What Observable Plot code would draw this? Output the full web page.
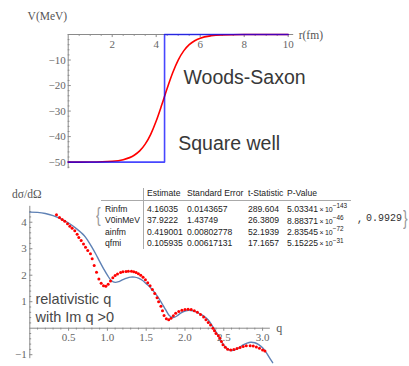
<!DOCTYPE html>
<html><head><meta charset="utf-8">
<script src="https://cdn.jsdelivr.net/npm/d3@7"></script>
<script src="https://cdn.jsdelivr.net/npm/@observablehq/plot@0.6"></script>
<style>
body{margin:0;background:#fff;}
#wrap{position:relative;width:409px;height:366px;overflow:hidden;background:#fff;}
#wrap svg{position:absolute;left:0;overflow:visible;background:transparent;}
.t{position:absolute;font-family:"Liberation Sans",Arial,sans-serif;font-size:8.6px;color:#222;white-space:nowrap;line-height:11px;height:11px;}
.t sup{font-size:6.4px;position:relative;top:-3.6px;vertical-align:baseline;line-height:0;}
</style></head>
<body><div id="wrap"></div>
<script>
// ---------- Top panel data: potentials ----------
const wsR = [0,1,2,2.5,3,3.25,3.5,3.75,4,4.25,4.5,4.75,5,5.25,5.5,5.75,6,6.5,7,8,9,10];
const wsV = [-50,-49.96,-49.67,-49.04,-47.3,-45.6,-42.96,-39.1,-33.9,-27.65,-21.04,-14.97,-10.02,-6.42,-3.98,-2.43,-1.45,-0.51,-0.18,-0.02,0,0];
const sqR = [0,4.38,4.38,10];
const sqV = [-50,-50,0,0];
const topXTicks = [2,4,6,8,10];
const topXLabels = ["2","4","6","8","10"];
const topYTicks = [-10,-20,-30,-40,-50];
const topYLabels = ["−10","−20","−30","−40","−50"];

// ---------- Bottom panel data: cross section ----------
const ptQ = [0.344,0.383,0.417,0.451,0.486,0.516,0.546,0.58,0.61,0.632,0.662,0.692,0.718,0.747,0.782,0.804,0.83,0.86,0.89,0.92,0.95,0.98,1.01,1.04,1.07,1.10,1.13,1.17,1.20,1.24,1.27,1.31,1.34,1.37,1.40,1.43,1.46,1.49,1.52,1.55,1.58,1.61,1.64,1.66,1.69,1.71,1.73,1.76,1.79,1.82,1.85,1.88,1.92,1.96,2.00,2.04,2.08,2.12,2.16,2.20,2.24,2.27,2.30,2.33,2.36,2.38,2.40,2.43,2.45,2.47,2.49,2.52,2.55,2.59,2.63,2.67,2.71,2.75,2.79,2.84,2.88,2.92,2.96,3.00,3.03];
const ptV = [4.28,4.18,4.10,4.04,3.94,3.85,3.77,3.68,3.55,3.42,3.31,3.18,3.06,2.93,2.81,2.62,2.37,2.11,1.86,1.70,1.60,1.58,1.66,1.78,1.90,1.99,2.05,2.10,2.13,2.14,2.15,2.15,2.13,2.10,2.06,2.00,1.92,1.83,1.72,1.60,1.46,1.31,1.15,1.00,0.83,0.66,0.48,0.36,0.32,0.38,0.47,0.56,0.63,0.68,0.71,0.72,0.71,0.66,0.60,0.52,0.42,0.32,0.22,0.12,0.0,-0.10,-0.20,-0.28,-0.38,-0.50,-0.62,-0.72,-0.79,-0.82,-0.80,-0.77,-0.73,-0.69,-0.66,-0.66,-0.67,-0.71,-0.76,-0.82,-0.86];
const fitQ = [0,0.1,0.2,0.3,0.4,0.5,0.6,0.7,0.75,0.8,0.85,0.9,0.95,1.0,1.05,1.1,1.15,1.2,1.25,1.3,1.35,1.4,1.45,1.5,1.55,1.6,1.65,1.7,1.75,1.8,1.85,1.9,1.95,2.0,2.05,2.1,2.15,2.2,2.25,2.3,2.35,2.4,2.45,2.5,2.55,2.6,2.65,2.7,2.75,2.8,2.85,2.9,2.95,3.0,3.05,3.1,3.13];
const fitV = [4.38,4.37,4.33,4.25,4.13,3.97,3.76,3.50,3.30,3.06,2.80,2.52,2.25,2.00,1.80,1.73,1.76,1.83,1.89,1.93,1.93,1.89,1.81,1.68,1.55,1.38,1.18,0.95,0.70,0.47,0.40,0.47,0.58,0.65,0.68,0.66,0.61,0.53,0.44,0.31,0.10,-0.14,-0.40,-0.64,-0.79,-0.84,-0.81,-0.73,-0.63,-0.56,-0.53,-0.55,-0.62,-0.74,-0.93,-1.17,-1.30];
const botXTicks = [0.5,1,1.5,2,2.5,3];
const botXLabels = ["0.5","1.0","1.5","2.0","2.5","3.0"];
const botYTicks = [-1,1,2,3,4];
const botYLabels = ["−1","1","2","3","4"];

// ---------- Fit table ----------
const headers = ["Estimate","Standard Error","t-Statistic","P-Value"];
const paramNames = ["Rinfm","V0inMeV","ainfm","qfmi"];
const estimates = ["4.16035","37.9222","0.419001","0.105935"];
const stdErrors = ["0.0143657","1.43749","0.00802778","0.00617131"];
const tStats = ["289.604","26.3809","52.1939","17.1657"];
const pMant = ["5.03341","8.88371","2.83545","5.15225"];
const pExp = ["−143","−46","−72","−31"];
const rSquared = "0.9929";

const AX = "#8a8a8a", LAB = "#666", SERIF = "'Liberation Serif','DejaVu Serif',serif";
const SANS = "'Liberation Sans',Arial,sans-serif";

// ---------------- Top plot ----------------
const ws = wsR.map((r,i)=>({r, v: wsV[i]}));
const sq = sqR.map((r,i)=>({r, v: sqV[i]}));
const tXMinor = d3.range(0.5, 10.01, 0.5).filter(d => Math.abs(d/2 - Math.round(d/2)) > 1e-6);
const tYMinor = d3.range(-52, -0.5, 2).filter(d => d % 10 !== 0);

const topPlot = Plot.plot({
  width: 409, height: 175,
  marginLeft: 67.7, marginRight: 121.3, marginTop: 34, marginBottom: 7,
  x: {domain: [0, 10], axis: null},
  y: {domain: [-52.5, 0], axis: null},
  style: {background: "transparent"},
  marks: [
    Plot.ruleY([0], {x1: 0, x2: 10.25, stroke: AX}),
    Plot.ruleX([0], {y1: -52.6, y2: 0, stroke: AX}),
    Plot.ruleX(topXTicks, {x: d => d, y1: 0, y2: -1.2, stroke: AX}),
    Plot.ruleX(tXMinor, {x: d => d, y1: 0, y2: -0.7, stroke: AX}),
    Plot.ruleY(topYTicks, {y: d => d, x1: 0, x2: 0.14, stroke: AX}),
    Plot.ruleY(tYMinor, {y: d => d, x1: 0, x2: 0.08, stroke: AX}),
    Plot.text(topXTicks, {x: d => d, y: 0, dy: 9.5, text: (d,i) => topXLabels[i], fill: LAB, fontFamily: SERIF, fontSize: 11}),
    Plot.text(topYTicks, {x: 0, y: d => d, dx: -2.5, textAnchor: "end", text: (d,i) => topYLabels[i], fill: LAB, fontFamily: SERIF, fontSize: 11}),
    Plot.text(["V(MeV)"], {x: 0, y: 0, dx: -1, dy: -18, textAnchor: "end", text: d => d, fill: "#555", fontFamily: SERIF, fontSize: 11.5}),
    Plot.text(["r(fm)"], {x: 10, y: 0, dx: 10.5, dy: 1, textAnchor: "start", text: d => d, fill: "#555", fontFamily: SERIF, fontSize: 11.5}),
    Plot.line(ws, {x: "r", y: "v", stroke: "#ff0000", strokeWidth: 1.6, curve: "monotone-x"}),
    Plot.line(sq, {x: "r", y: "v", stroke: "#0000ff", strokeWidth: 1.6, strokeOpacity: 0.72}),
    Plot.text(["Woods-Saxon"], {x: 5.24, y: -16.9, textAnchor: "start", text: d => d, fill: "#383838", fontFamily: SANS, fontSize: 19.5}),
    Plot.text(["Square well"], {x: 5.0, y: -42.8, textAnchor: "start", text: d => d, fill: "#383838", fontFamily: SANS, fontSize: 19.5})
  ]
});
topPlot.style.top = "0px";
document.getElementById("wrap").appendChild(topPlot);

// ---------------- Bottom plot ----------------
const pts = ptQ.map((q,i)=>({q, v: ptV[i]}));
const fit = fitQ.map((q,i)=>({q, v: fitV[i]}));
const bXMinor = d3.range(1, 31).map(d => d/10).filter(d => Math.round(d*10) % 5 !== 0);
const bYMinor = d3.range(-5, 23).map(d => d/5).filter(d => Math.round(d*5) % 5 !== 0);

const botPlot = Plot.plot({
  width: 409, height: 186,
  marginLeft: 29.3, marginRight: 131.4, marginTop: 25.3, marginBottom: 1.2,
  x: {domain: [0, 3.2], axis: null},
  y: {domain: [-1.4, 4.62], axis: null},
  style: {background: "transparent"},
  marks: [
    Plot.ruleY([0], {x1: 0, x2: 3.1, stroke: AX}),
    Plot.ruleX([0], {y1: -1.15, y2: 4.6, stroke: AX}),
    Plot.ruleX(botXTicks, {x: d => d, y1: 0, y2: -0.115, stroke: AX}),
    Plot.ruleX(bXMinor, {x: d => d, y1: 0, y2: -0.068, stroke: AX}),
    Plot.ruleY(botYTicks, {y: d => d, x1: 0, x2: 0.04, stroke: AX}),
    Plot.ruleY(bYMinor, {y: d => d, x1: 0, x2: 0.024, stroke: AX}),
    Plot.text(botXTicks, {x: d => d, y: 0, dy: 9, text: (d,i) => botXLabels[i], fill: LAB, fontFamily: SERIF, fontSize: 11}),
    Plot.text(botYTicks, {x: 0, y: d => d, dx: -3, textAnchor: "end", text: (d,i) => botYLabels[i], fill: LAB, fontFamily: SERIF, fontSize: 11}),
    Plot.text(["q"], {x: 3.1, y: 0, dx: 6, textAnchor: "start", text: d => d, fill: "#555", fontFamily: SERIF, fontSize: 12}),
    Plot.text(["dσ/dΩ"], {x: 0, y: 4.6, dx: -3, dy: -12, textAnchor: "middle", text: d => d, fill: "#555", fontFamily: SERIF, fontSize: 11.5}),
    Plot.line(fit, {x: "q", y: "v", stroke: "#5e81b5", strokeWidth: 1.4, curve: "catmull-rom"}),
    Plot.dot(pts, {x: "q", y: "v", r: 1.5, fill: "#ff0000", stroke: "none"}),
    Plot.text(["relativistic q"], {x: 0.073, y: 1.07, textAnchor: "start", text: d => d, fill: "#484848", fontFamily: SANS, fontSize: 14.5}),
    Plot.text(["with Im q >0"], {x: 0.073, y: 0.40, textAnchor: "start", text: d => d, fill: "#484848", fontFamily: SANS, fontSize: 14.5})
  ]
});
botPlot.style.top = "180px";
document.getElementById("wrap").appendChild(botPlot);

// ---------------- Table overlay ----------------
const wrap = document.getElementById("wrap");
function addDiv(html, left, center, extra) {
  const d = document.createElement("div");
  d.className = "t";
  d.innerHTML = html;
  d.style.left = left + "px";
  d.style.top = (center - 5.5) + "px";
  if (extra) Object.assign(d.style, extra);
  wrap.appendChild(d);
  return d;
}
const colX = [147, 187, 248, 287];
headers.forEach((h, j) => addDiv(h, colX[j], 193.5));
const rowC = [209, 220.5, 232, 243.3];
paramNames.forEach((n, i) => {
  addDiv(n, 105, rowC[i]);
  addDiv(estimates[i], colX[0], rowC[i]);
  addDiv(stdErrors[i], colX[1], rowC[i]);
  addDiv(tStats[i], colX[2], rowC[i]);
  addDiv(pMant[i] + "<span style='font-size:7px'>\u2009×\u200910</span><sup>" + pExp[i] + "</sup>", colX[3], rowC[i] + 0.5);
});
// grid lines
const hl = document.createElement("div");
Object.assign(hl.style, {position:"absolute", left:"101px", top:"199.5px", width:"250px", height:"0", borderTop:"1px solid #aaa"});
wrap.appendChild(hl);
const vl = document.createElement("div");
Object.assign(vl.style, {position:"absolute", left:"143px", top:"188px", width:"0", height:"61px", borderLeft:"1px solid #aaa"});
wrap.appendChild(vl);
// braces and R^2
addDiv("{", 95, 214, {fontSize:"20px", color:"#999", lineHeight:"20px", height:"20px", top:"205px", transform:"scaleX(0.7)"});
addDiv("}", 402, 217, {fontSize:"20px", color:"#999", lineHeight:"20px", height:"20px", top:"208px", transform:"scaleX(0.7)"});
addDiv(",", 357, 219, {fontFamily:"'Liberation Mono',monospace", fontSize:"10px", color:"#333"});
addDiv(rSquared, 366, 218, {fontFamily:"'Liberation Mono',monospace", fontSize:"10px", color:"#333"});
</script>
</body></html>
